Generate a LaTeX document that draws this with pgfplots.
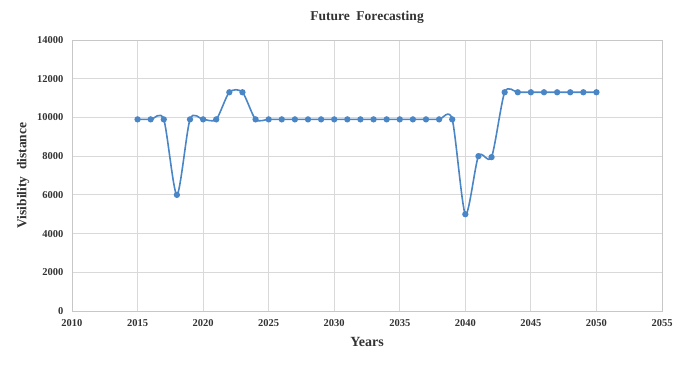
\documentclass[border=0pt]{standalone}
\usepackage{fontspec}
\setmainfont{Liberation Serif}
\usepackage{pgfplots}
\pgfplotsset{compat=1.18}
\definecolor{lineblue}{RGB}{74,134,198}
\definecolor{gridgray}{RGB}{217,217,217}
\begin{document}
\begin{tikzpicture}
\begin{axis}[
  scale only axis,
  width=590pt, height=271pt,
  xmin=2010, xmax=2055, ymin=0, ymax=14000,
  xtick={2010,2015,...,2055},
  ytick={0,2000,...,14000},
  scaled y ticks=false,
  scaled x ticks=false,
  grid=major,
  major grid style={gridgray, line width=0.8pt},
  axis line style={gridgray!80!gray, line width=0.8pt},
  tick style={draw=none},
  /pgf/number format/.cd, 1000 sep={}, assume math mode=true,
  /pgfplots/.cd,
  ticklabel style={font=\fontsize{10.5}{12}\selectfont\bfseries, text=black!80},
  yticklabel style={xshift=-5pt},
  xticklabel style={yshift=-5pt},
  every axis title shift=0pt,
  title={Future\ \ Forecasting},
  title style={font=\fontsize{13.5}{15}\selectfont\bfseries, text=black!80, at={(axis description cs:0.5,1.085)}, anchor=center},
  xlabel={Years},
  ylabel={Visibility\ \ distance},
  every axis x label/.style={at={(axis description cs:0.5,-0.114)}, anchor=center, font=\fontsize{14}{16}\selectfont\bfseries, text=black!80},
  every axis y label/.style={at={(axis description cs:-0.083,0.5)}, anchor=center, rotate=90, font=\fontsize{13.5}{16}\selectfont\bfseries, text=black!80},
]
\addplot[color=lineblue, line width=1.6pt, smooth, tension=0.45, mark=*, mark size=2.3pt, mark options={fill=lineblue, draw=lineblue}] coordinates {
(2015,9900) (2016,9900) (2017,9900) (2018,6000) (2019,9900) (2020,9900)
(2021,9900) (2022,11300) (2023,11300) (2024,9900) (2025,9900) (2026,9900)
(2027,9900) (2028,9900) (2029,9900) (2030,9900) (2031,9900) (2032,9900)
(2033,9900) (2034,9900) (2035,9900) (2036,9900) (2037,9900) (2038,9900)
(2039,9900) (2040,5000) (2041,8000) (2042,7950) (2043,11300) (2044,11300)
(2045,11300) (2046,11300) (2047,11300) (2048,11300) (2049,11300) (2050,11300)
};
\end{axis}
\pgfresetboundingbox
\path ([shift={(-72pt,-54pt)}]current axis.south west) rectangle ([shift={(23pt,40pt)}]current axis.north east);
\end{tikzpicture}
\end{document}
